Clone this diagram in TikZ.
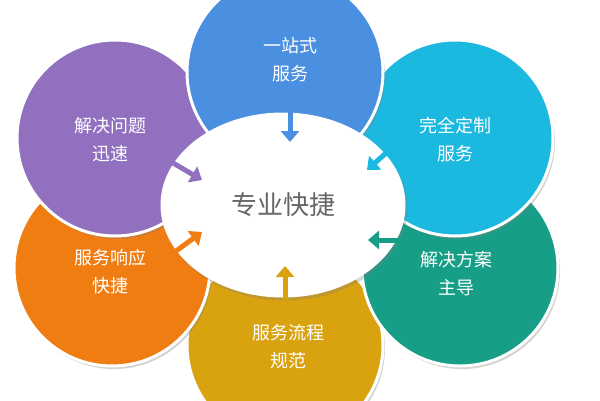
\documentclass[tikz,border=0pt]{standalone}
\usepackage{fontspec}
\setmainfont{Noto Sans CJK SC}
\usetikzlibrary{arrows.meta,shadows,shapes.geometric}
\definecolor{cblue}{HTML}{4A8FE0}
\definecolor{ccyan}{HTML}{1BB8E0}
\definecolor{cgreen}{HTML}{169E86}
\definecolor{cyellow}{HTML}{D9A20F}
\definecolor{corange}{HTML}{F07D12}
\definecolor{cpurple}{HTML}{9270C0}
\tikzset{
 petal/.style={circle,minimum size=196pt,draw=white,line width=3pt,drop shadow={shadow xshift=2pt,shadow yshift=-3pt,opacity=0.35}},
 ptext/.style={text=white,font=\fontsize{18}{28}\selectfont,align=center},
 hub/.style={ellipse,minimum width=245pt,minimum height=185pt,fill=white,text=gray!80!black,font=\fontsize{26}{30}\selectfont,drop shadow={shadow xshift=2pt,shadow yshift=-3pt,opacity=0.3}},
 arr/.style={line width=5pt,-{Triangle[length=11pt,width=18pt]}}
}
\begin{document}
\begin{tikzpicture}[x=1pt,y=-1pt]
\useasboundingbox (0,0) rectangle (600,400);
\fill[white] (0,0) rectangle (600,400);
\node[petal,fill=cyellow] (y) at (285,345) {};
\node[petal,fill=cgreen] (g) at (460,268) {};
\node[petal,fill=corange] (o) at (112,268) {};
\node[petal,fill=cpurple] (p) at (115,138) {};
\node[petal,fill=ccyan] (c) at (455,138) {};
\node[petal,fill=cblue] (b) at (285,72) {};
\node[ptext] at (288,347) {服务流程\\规范};
\node[ptext] at (456,274) {解决方案\\主导};
\node[ptext] at (110,272) {服务响应\\快捷};
\node[ptext] at (110,140) {解决问题\\迅速};
\node[ptext] at (455,140) {完全定制\\服务};
\node[ptext] at (290,60) {一站式\\服务};
\node[hub] (h) at (283,205) {专业快捷};
\coordinate (b1) at (290,110); \coordinate (b2) at (290,142);
\coordinate (c1) at (394,146); \coordinate (c2) at (367,170);
\coordinate (g1) at (402,240); \coordinate (g2) at (368,240);
\coordinate (y1) at (285,300); \coordinate (y2) at (285,266);
\coordinate (o1) at (172,254); \coordinate (o2) at (202,232);
\coordinate (p1) at (168,160); \coordinate (p2) at (202,180);
\draw[arr,cblue] (b1) -- (b2);
\draw[arr,ccyan] (c1) -- (c2);
\draw[arr,cgreen] (g1) -- (g2);
\draw[arr,cyellow] (y1) -- (y2);
\draw[arr,corange] (o1) -- (o2);
\draw[arr,cpurple] (p1) -- (p2);
\end{tikzpicture}
\end{document}
